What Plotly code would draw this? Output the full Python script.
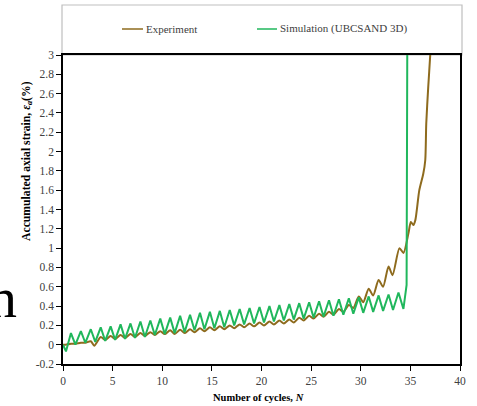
import plotly.graph_objects as go

# ---- data ----
exp_x = [0.0, 0.25, 0.8, 1.25, 1.8, 2.25, 2.8, 3.15, 3.8, 4.25, 4.8, 5.25, 5.8, 6.25, 6.8,
         7.25, 7.8, 8.25, 8.8, 9.25, 9.8, 10.25, 10.8, 11.25, 11.8, 12.25, 12.8, 13.25, 13.8,
         14.25, 14.8, 15.25, 15.8, 16.25, 16.8, 17.25, 17.8, 18.25, 18.8, 19.25, 19.8, 20.25,
         20.8, 21.25, 21.8, 22.25, 22.8, 23.25, 23.8, 24.25, 24.8, 25.25, 25.8, 26.25, 26.8,
         27.25, 27.8, 28.25, 28.8, 29.25, 29.8, 30.25, 30.8, 31.25, 31.8, 32.25, 32.8, 33.2,
         33.9, 34.3, 34.8, 35.05, 35.3, 35.5, 35.9, 36.3, 36.5, 36.6, 36.8, 37.0, 37.15]
exp_y = [0.0, 0.0, 0.01, 0.01, 0.02, 0.02, 0.035, -0.01, 0.08, 0.05, 0.09, 0.06, 0.10, 0.07, 0.11,
         0.08, 0.12, 0.09, 0.13, 0.10, 0.14, 0.11, 0.15, 0.11, 0.155, 0.12, 0.16, 0.13, 0.17,
         0.14, 0.18, 0.15, 0.19, 0.16, 0.20, 0.17, 0.21, 0.18, 0.22, 0.19, 0.23, 0.20,
         0.24, 0.21, 0.25, 0.22, 0.26, 0.23, 0.28, 0.25, 0.30, 0.27, 0.32, 0.29, 0.34,
         0.31, 0.37, 0.34, 0.41, 0.38, 0.50, 0.44, 0.58, 0.51, 0.67, 0.60, 0.81, 0.72,
         1.00, 0.95, 1.15, 1.27, 1.24, 1.29, 1.60, 1.77, 1.91, 2.29, 2.67, 3.00, 3.30]

sim_x = [0.0, 0.3, 0.8, 1.25, 1.8, 2.25, 2.8, 3.25, 3.8, 4.25, 4.8, 5.25, 5.8, 6.25, 6.8,
         7.25, 7.8, 8.25, 8.8, 9.25, 9.8, 10.25, 10.8, 11.25, 11.8, 12.25, 12.8, 13.25, 13.8,
         14.25, 14.8, 15.25, 15.8, 16.25, 16.8, 17.25, 17.8, 18.25, 18.8, 19.25, 19.8, 20.25,
         20.8, 21.25, 21.8, 22.25, 22.8, 23.25, 23.8, 24.25, 24.8, 25.25, 25.8, 26.25, 26.8,
         27.25, 27.8, 28.25, 28.8, 29.25, 29.8, 30.25, 30.8, 31.25, 31.8, 32.25, 32.8, 33.25,
         33.8, 34.3, 34.62, 34.7]
sim_y = [0.0, -0.07, 0.12, 0.0, 0.14, 0.02, 0.16, 0.03, 0.18, 0.04, 0.19, 0.05, 0.21, 0.06, 0.22,
         0.07, 0.24, 0.08, 0.25, 0.10, 0.27, 0.11, 0.28, 0.12, 0.30, 0.13, 0.31, 0.15, 0.33,
         0.16, 0.34, 0.17, 0.35, 0.18, 0.36, 0.20, 0.37, 0.21, 0.38, 0.22, 0.39, 0.23,
         0.40, 0.24, 0.41, 0.25, 0.42, 0.26, 0.43, 0.27, 0.44, 0.28, 0.45, 0.29, 0.46,
         0.30, 0.47, 0.31, 0.48, 0.32, 0.49, 0.33, 0.50, 0.34, 0.51, 0.35, 0.52, 0.36,
         0.54, 0.37, 0.62, 3.50]

series_names = ["Experiment", "Simulation (UBCSAND 3D)"]
series_colors = ["#8E6B1E", "#20B75C"]

x_ticks = [0, 5, 10, 15, 20, 25, 30, 35, 40]
y_ticks = [-0.2, 0, 0.2, 0.4, 0.6, 0.8, 1, 1.2, 1.4, 1.6, 1.8, 2, 2.2, 2.4, 2.6, 2.8, 3]
y_tick_text = ["-0.2", "0", "0.2", "0.4", "0.6", "0.8", "1", "1.2", "1.4", "1.6", "1.8",
               "2", "2.2", "2.4", "2.6", "2.8", "3"]
x_title = "<b>Number of cycles, <i>N</i></b>"
y_title = "<b>Accumulated axial strain, <i>ε</i><sub><i>a</i></sub>(%)</b>"

SERIF = "Liberation Serif"

fig = go.Figure()
fig.add_trace(go.Scatter(x=exp_x, y=exp_y, mode="lines", name=series_names[0], showlegend=False,
                         line=dict(color=series_colors[0], width=2, shape="spline", smoothing=0.7)))
fig.add_trace(go.Scatter(x=sim_x, y=sim_y, mode="lines", name=series_names[1], showlegend=False,
                         line=dict(color=series_colors[1], width=2)))

W, H = 477, 406
L, R, T, B = 63, 17, 55, 42
pw, ph = W - L - R, H - T - B


def px(xp):
    return (xp - L) / pw


def py(yp):
    return (H - B - yp) / ph


fig.update_layout(
    width=W, height=H,
    margin=dict(l=L, r=R, t=T, b=B),
    paper_bgcolor="white", plot_bgcolor="white",
    font=dict(family=SERIF, size=11, color="#404040"),
    showlegend=False,
    xaxis=dict(range=[0, 40], tickvals=x_ticks, ticks="outside", ticklen=5, tickwidth=1,
               tickcolor="black", showline=True, linecolor="black", linewidth=1.5,
               mirror=True, showgrid=False, zeroline=False,
               tickfont=dict(family=SERIF, size=11.5, color="#404040")),
    yaxis=dict(range=[-0.2, 3], tickvals=y_ticks, ticktext=y_tick_text, ticks="outside",
               ticklen=5, tickwidth=1, tickcolor="black", showline=True, linecolor="black",
               linewidth=1.5, mirror=True, showgrid=False, zeroline=False,
               tickfont=dict(family=SERIF, size=11.5, color="#404040")),
)

# axis titles
fig.add_annotation(text=x_title, xref="paper", yref="paper", x=px(258), xanchor="center",
                   y=py(397), yanchor="middle", showarrow=False,
                   font=dict(family=SERIF, size=10.5, color="black"))
fig.add_annotation(text=y_title, xref="paper", yref="paper", x=px(27), xanchor="center",
                   y=py(161), yanchor="middle", showarrow=False, textangle=-90,
                   font=dict(family=SERIF, size=11.7, color="black"))

# legend frame above the plot
fig.add_shape(type="rect", xref="paper", yref="paper",
              x0=px(62), x1=px(462), y0=1, y1=py(5),
              line=dict(color="#BFBFBF", width=1.2), fillcolor="rgba(0,0,0,0)", layer="below")

# legend entries
legend_pos = [(122, 143), (257, 277)]
for name, color, (a, b) in zip(series_names, series_colors, legend_pos):
    fig.add_shape(type="line", xref="paper", yref="paper", x0=px(a), x1=px(b),
                  y0=py(29), y1=py(29), line=dict(color=color, width=1.5))
    fig.add_annotation(text=name, xref="paper", yref="paper", x=px(b + 1), xanchor="left",
                       y=py(29), yanchor="middle", showarrow=False,
                       font=dict(family=SERIF, size=11, color="#404040"))

# stray glyph cropped at the left edge of the source image
fig.add_annotation(text="n", xref="paper", yref="paper", x=px(2.5), xanchor="center",
                   y=py(297), yanchor="middle", showarrow=False,
                   font=dict(family=SERIF, size=58, color="black"))

fig.write_html("out.html")
